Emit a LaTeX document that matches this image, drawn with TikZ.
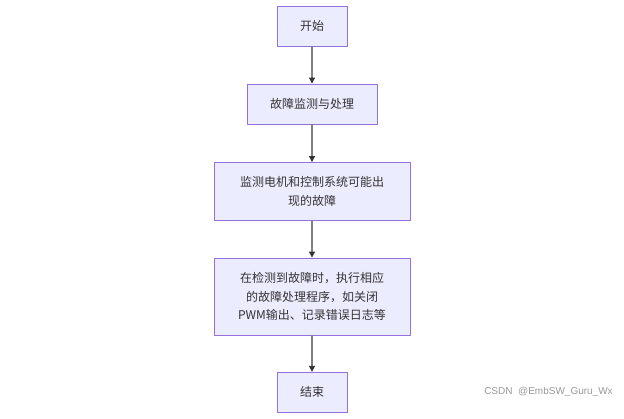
\documentclass[tikz,border=0pt]{standalone}
\usepackage{fontspec}
\newfontfamily\cjk{Noto Sans CJK SC}
\newfontfamily\wmfont{Liberation Sans}
\usetikzlibrary{arrows,arrows.meta}
\definecolor{boxfill}{HTML}{ECECFF}
\definecolor{boxline}{HTML}{9370DB}
\definecolor{txt}{HTML}{333333}
\definecolor{edge}{HTML}{808080}
\tikzset{
  flowbox/.style={draw=boxline, fill=boxfill, line width=0.9pt, inner sep=0pt, align=center,
    text=txt, font=\cjk\fontsize{12}{18.5}\selectfont},
  flow/.style={-{Triangle[length=6pt,width=6pt,color=txt]}, draw=edge, line width=1.1pt}
}
\begin{document}
\begin{tikzpicture}[line cap=round,line join=round,x=1pt,y=-1pt]
\useasboundingbox [fill=white] (0,0) rectangle (624,419);
\node [flowbox, minimum width=70pt, minimum height=40pt] (start) at (312,26) {开始};
\node [flowbox, minimum width=130pt, minimum height=40pt] (monitor) at (312,104) {故障监测与处理};
\node [flowbox, minimum width=196pt, minimum height=58pt] (detect) at (312,191.5) {监测电机和控制系统可能出\\现的故障};
\node [flowbox, minimum width=196pt, minimum height=77pt] (handle) at (312,296.5) {在检测到故障时，执行相应\\的故障处理程序，如关闭\\PWM输出、记录错误日志等};
\node [flowbox, minimum width=70pt, minimum height=40pt] (stop) at (312,392.3) {结束};
\draw [flow] (start) -- (monitor);
\draw [flow] (monitor) -- (detect);
\draw [flow] (detect) -- (handle);
\draw [flow] (handle) -- (stop);
\node [text=black!40, font=\wmfont\fontsize{10}{12}\selectfont] (mark) at (548.5,392) {CSDN \ @EmbSW\_Guru\_Wx};
\end{tikzpicture}
\end{document}
